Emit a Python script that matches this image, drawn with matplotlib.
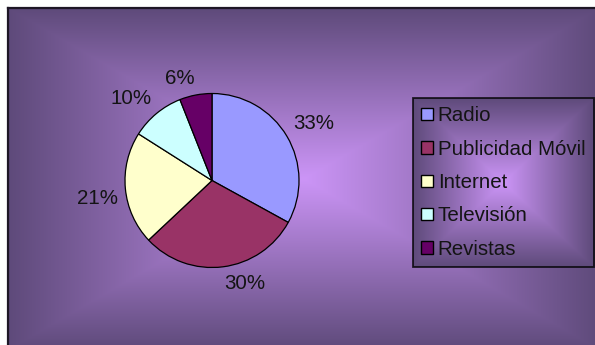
import numpy as np
import matplotlib
matplotlib.use("Agg")
import matplotlib.pyplot as plt
from matplotlib.patches import Patch
from matplotlib.colors import to_rgb

# Media share data
categories = ["Radio", "Publicidad Móvil", "Internet", "Televisión", "Revistas"]
shares = [33, 30, 21, 10, 6]
slice_colors = ["#9999FF", "#993366", "#FFFFCC", "#CCFFFF", "#660066"]

W, H, DPI = 595, 345, 100
plt.rcParams["font.family"] = ["Liberation Sans", "DejaVu Sans"]
FS = 14.8

fig = plt.figure(figsize=(W / DPI, H / DPI), dpi=DPI)
fig.patch.set_facecolor("white")

LIGHT = np.array(to_rgb("#CC95F7"))
DARK = np.array(to_rgb("#5E4A7A"))


def box_gradient(x0, x1, y0, y1, cx, cy, hw, hh):
    """Rectangular 'from centre' gradient sampled on pixel centres."""
    xs = np.arange(x0, x1) + 0.5
    ys = np.arange(y0, y1) + 0.5
    X, Y = np.meshgrid(xs, ys)
    t = np.maximum(np.abs(X - cx) / hw, np.abs(Y - cy) / hh)
    t = np.clip(t, 0, 1)[..., None]
    return LIGHT * (1 - t) + DARK * t


# Chart-area background (extends past the right / bottom edges)
bx0, by0 = 8, 8
bg_ax = fig.add_axes([bx0 / W, 0, (W - bx0) / W, (H - by0) / H], zorder=0)
bg = box_gradient(bx0, W, by0, H, cx=304, cy=179, hw=296, hh=171)
bg_ax.imshow(bg, extent=(bx0, W, H, by0), origin="upper", aspect="auto",
             interpolation="bilinear")
bg_ax.set_xlim(bx0, W)
bg_ax.set_ylim(H, by0)
bg_ax.axis("off")
# top and left border of the chart area
fig.add_artist(plt.Line2D([bx0 / W, 1], [1 - by0 / H] * 2, color="#1E1726",
                          lw=1.6, transform=fig.transFigure, zorder=3))
fig.add_artist(plt.Line2D([bx0 / W] * 2, [0, 1 - by0 / H], color="#1E1726",
                          lw=1.6, transform=fig.transFigure, zorder=3))

# Pie
pcx, pcy, R = 212, 180.5, 87.0
S = 160
ax = fig.add_axes([(pcx - S) / W, (H - pcy - S) / H, 2 * S / W, 2 * S / H],
                  zorder=2)
wedges, _ = ax.pie(shares, colors=slice_colors, startangle=90,
                   counterclock=False, radius=1.0,
                   wedgeprops=dict(edgecolor="black", linewidth=0.9))
ax.set_xlim(-S / R, S / R)
ax.set_ylim(-S / R, S / R)
ax.axis("off")

total = sum(shares)
for w, v in zip(wedges, shares):
    mid = np.deg2rad((w.theta1 + w.theta2) / 2)
    c, s = np.cos(mid), np.sin(mid)
    ax.text(1.08 * c, 1.08 * s, f"{round(v / total * 100)}%",
            ha="left" if c > 0 else "right",
            va="bottom" if s > 0 else "top",
            fontsize=FS, color="#141414")

# Legend
handles = [Patch(facecolor=col, edgecolor="black", linewidth=1.0)
           for col in slice_colors]
leg = fig.legend(handles, categories, loc="upper left",
                 bbox_to_anchor=(413 / W, 1 - 98 / H), borderaxespad=0,
                 fontsize=FS, frameon=True, fancybox=False,
                 handlelength=0.55, handleheight=0.55, handletextpad=0.25,
                 labelspacing=0.7, borderpad=0.4)
leg.set_zorder(5)
frame = leg.get_frame()
frame.set_facecolor("none")
frame.set_edgecolor("black")
frame.set_linewidth(1.3)
for txt in leg.get_texts():
    txt.set_color("#141414")

fig.canvas.draw()
bb = leg.get_window_extent()
lx0, lx1 = int(round(bb.x0)), int(round(bb.x1))
ly0, ly1 = int(round(H - bb.y1)), int(round(H - bb.y0))
lg_ax = fig.add_axes([lx0 / W, (H - ly1) / H, (lx1 - lx0) / W, (ly1 - ly0) / H],
                     zorder=4)
lg = box_gradient(lx0, lx1, ly0, ly1, cx=(lx0 + lx1) / 2, cy=(ly0 + ly1) / 2,
                  hw=(lx1 - lx0) / 2, hh=(ly1 - ly0) / 2)
lg_ax.imshow(lg, extent=(lx0, lx1, ly1, ly0), origin="upper", aspect="auto",
             interpolation="bilinear")
lg_ax.axis("off")

fig.savefig("out.png", dpi=DPI)
